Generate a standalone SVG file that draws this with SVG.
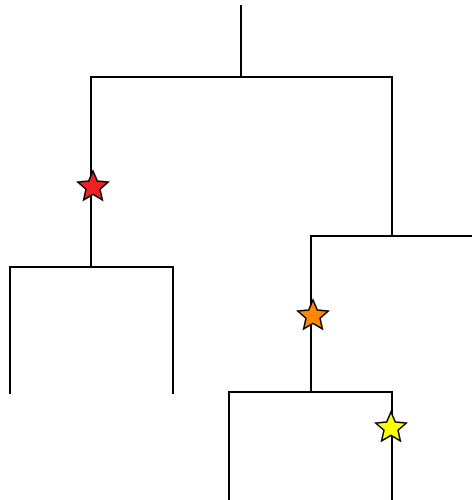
<svg xmlns="http://www.w3.org/2000/svg" width="472" height="500" viewBox="0 0 472 500">
<style>
.e{stroke:#000;stroke-width:2;fill:none;stroke-linecap:square}
.s{stroke:#000;stroke-width:1.5;stroke-linejoin:miter}
</style>
<defs>
<path id="star" d="M0,-16 L4.35,-5.99 L15.22,-4.94 L7.04,2.29 L9.40,12.94 L0,7.4 L-9.40,12.94 L-7.04,2.29 L-15.22,-4.94 L-4.35,-5.99 Z"/>
</defs>
<rect width="472" height="500" fill="#fff"/>
<g id="edges">
<path class="e" d="M241,6 V77"/>
<path class="e" d="M91,267 V77 H392 V236"/>
<path class="e" d="M10,393 V267 H173 V393"/>
<path class="e" d="M311,392 V236 H472"/>
<path class="e" d="M229,500 V392 H392 V500"/>
</g>
<g id="star-red"><use href="#star" class="s" fill="#ee2222" transform="translate(93,187)"/></g>
<g id="star-orange"><use href="#star" class="s" fill="#ff8800" transform="translate(313,316)"/></g>
<g id="star-yellow"><use href="#star" class="s" fill="#ffff00" transform="translate(391,428)"/></g>
</svg>
